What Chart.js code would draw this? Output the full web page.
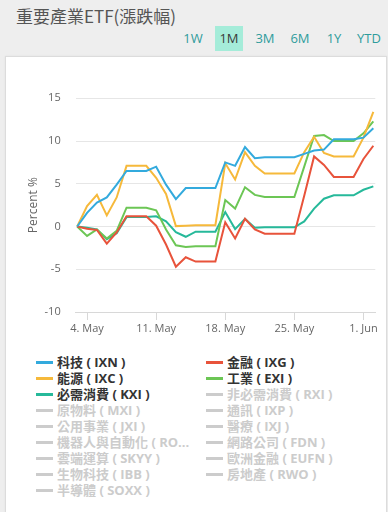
<!DOCTYPE html>
<html>
<head>
<meta charset="utf-8">
<script src="https://cdn.jsdelivr.net/npm/chart.js@4/dist/chart.umd.min.js"></script>
<style>
  html, body { margin: 0; padding: 0; }
  body { width: 388px; height: 512px; background: #eeeeee; position: relative; overflow: hidden;
         font-family: "Open Sans", "Noto Sans CJK TC", sans-serif; }
  #title { position: absolute; left: 16px; top: 3px; font-size: 17px; color: #555; font-family: "Noto Sans CJK TC", sans-serif; }
  #ranges { position: absolute; top: 26px; left: 0; width: 388px; height: 25px; }
  .rb { position: absolute; top: 0; height: 25px; line-height: 25px; font-size: 13px; color: #2e9c9c; text-align: center; }
  .rb.active { background: #a5ecd9; color: #3a3a3a; }
  #card { position: absolute; left: 5px; top: 56px; width: 380px; height: 470px; background: #fff;
          border: 1px solid #dcdcdc; box-shadow: 0 0 2px rgba(0,0,0,0.06); }
  #chartbox { position: absolute; left: 0; top: 0; width: 388px; height: 345px; }
  #legend { position: absolute; left: 0; top: 354px; width: 388px; }
  .li { position: absolute; height: 16px; line-height: 16px; font-size: 13px; font-weight: bold; white-space: nowrap;
        font-family: "Open Sans", "Noto Sans CJK TC", sans-serif; }
  .li .sw { position: absolute; left: 0; top: 7px; width: 17px; height: 3px; }
  .li .tx { position: absolute; left: 21px; top: 0; }
</style>
</head>
<body>
<div id="title">重要產業ETF(漲跌幅)</div>
<div id="ranges"></div>
<div id="card"></div>
<div id="chartbox"><canvas id="c" width="388" height="345"></canvas></div>
<div id="legend"></div>
<script>
// ---- data ----
const days = ['5/3','5/4','5/5','5/6','5/7','5/8','5/9','5/10','5/11','5/12','5/13','5/14','5/15','5/16','5/17','5/18','5/19','5/20','5/21','5/22','5/23','5/24','5/25','5/26','5/27','5/28','5/29','5/30','5/31','6/1','6/2'];
const xTickIndex = [1, 8, 15, 22, 29];
const xTickLabels = ['4. May', '11. May', '18. May', '25. May', '1. Jun'];
const yTicks = [-10, -5, 0, 5, 10, 15];

const ixn = [0,1.6,2.8,3.4,4.9,6.5,6.5,6.5,7.0,4.9,3.2,4.5,4.5,4.5,4.5,7.5,7.1,9.3,8.0,8.1,8.1,8.1,8.1,8.5,8.9,9.0,10.2,10.2,10.2,10.4,11.5];
const ixg = [0,-0.25,-0.4,-2.0,-0.7,1.2,1.2,1.2,0.1,-2.1,-4.7,-3.6,-4.1,-4.1,-4.1,0.5,-1.4,0.9,-0.35,-0.85,-0.85,-0.85,-0.85,3.6,8.2,7.2,5.8,5.8,5.8,7.9,9.45];
const ixc = [0,2.4,3.7,1.3,3.4,7.1,7.1,7.1,5.7,3.8,0.05,0.1,0.15,0.15,0.15,7.4,5.5,8.7,7.1,6.2,6.2,6.2,6.2,8.7,10.5,8.6,8.2,8.2,8.2,10.4,13.4];
const exi = [0,-1.1,-0.35,-1.4,-0.5,2.2,2.2,2.2,1.9,-0.35,-2.2,-2.4,-2.3,-2.3,-2.3,3.1,2.1,4.6,3.7,3.45,3.45,3.45,3.45,7.0,10.6,10.7,10.0,10.0,10.0,10.9,12.3];
const kxi = [0,-0.15,-0.35,-1.5,-0.8,1.1,1.1,1.1,1.2,0.6,-0.65,-1.2,-0.6,-0.6,-0.6,1.7,-0.3,0.9,-0.15,-0.1,-0.1,-0.1,-0.1,0.6,2.1,3.25,3.65,3.65,3.65,4.3,4.7];

const seriesNames = ['科技 ( IXN )','金融 ( IXG )','能源 ( IXC )','工業 ( EXI )','必需消費 ( KXI )','非必需消費 ( RXI )','原物料 ( MXI )','通訊 ( IXP )','公用事業 ( JXI )','醫療 ( IXJ )','機器人與自動化 ( RO...','網路公司 ( FDN )','雲端運算 ( SKYY )','歐洲金融 ( EUFN )','生物科技 ( IBB )','房地產 ( RWO )','半導體 ( SOXX )'];
const seriesColors = ['#33aadd','#e8533b','#f6b93b','#6cc655','#26b99a'];
const visibleData = [ixn, ixg, ixc, exi, kxi];
const ranges = ['1W','1M','3M','6M','1Y','YTD'];
const activeRange = '1M';

// ---- range buttons ----
const rangeX = [193, 229, 265, 300, 334, 369];
const rangeW = [26, 28, 26, 26, 24, 30];
const rb = document.getElementById('ranges');
ranges.forEach((r, i) => {
  const d = document.createElement('div');
  d.className = 'rb' + (r === activeRange ? ' active' : '');
  d.textContent = r;
  d.style.left = (rangeX[i] - rangeW[i] / 2) + 'px';
  d.style.width = rangeW[i] + 'px';
  rb.appendChild(d);
});

// ---- datasets ----
const datasets = seriesNames.map((name, i) => {
  const vis = i < visibleData.length;
  return {
    label: name,
    data: vis ? visibleData[i].map((v, k) => ({ x: k, y: v })) : [],
    borderColor: vis ? seriesColors[i] : '#cccccc',
    backgroundColor: vis ? seriesColors[i] : '#cccccc',
    borderWidth: 2,
    pointRadius: 0,
    tension: 0,
    fill: false,
    hidden: !vis
  };
});

const htmlLegend = {
  id: 'htmlLegend',
  afterUpdate(chart) {
    const box = document.getElementById('legend');
    box.innerHTML = '';
    chart.data.datasets.forEach((ds, i) => {
      const col = i % 2, row = Math.floor(i / 2);
      const hidden = !chart.isDatasetVisible(i);
      const it = document.createElement('div');
      it.className = 'li';
      it.style.left = (col === 0 ? 36 : 206) + 'px';
      it.style.top = (row * 16) + 'px';
      const sw = document.createElement('div');
      sw.className = 'sw';
      sw.style.background = hidden ? '#cccccc' : ds.borderColor;
      const tx = document.createElement('span');
      tx.className = 'tx';
      tx.textContent = ds.label;
      tx.style.color = hidden ? '#cccccc' : '#333333';
      it.appendChild(sw); it.appendChild(tx);
      box.appendChild(it);
    });
  }
};

new Chart(document.getElementById('c'), {
  type: 'line',
  data: { datasets },
  options: {
    responsive: false,
    animation: false,
    layout: { padding: { left: 22.5, top: 98.3, right: 12.7, bottom: 3 } },
    plugins: { legend: { display: false }, tooltip: { enabled: false } },
    scales: {
      x: {
        type: 'linear',
        min: -0.15,
        max: 30.2,
        afterBuildTicks: (axis) => { axis.ticks = xTickIndex.map(v => ({ value: v })); },
        afterFit: (axis) => { axis.height = 30; },
        ticks: {
          autoSkip: false,
          maxRotation: 0,
          padding: 2,
          color: '#666',
          font: { size: 11, family: '"Open Sans", sans-serif' },
          callback: (v) => { const j = xTickIndex.indexOf(v); return j >= 0 ? xTickLabels[j] : ''; }
        },
        grid: { drawOnChartArea: false, drawTicks: true, tickLength: 8, tickColor: '#d8d8d8' },
        border: { display: true, color: '#d8d8d8' }
      },
      y: {
        min: -10,
        max: 15,
        afterBuildTicks: (axis) => { axis.ticks = yTicks.map(v => ({ value: v })); },
        afterFit: (axis) => { axis.width = 53.2; },
        ticks: { padding: 15, color: '#666', font: { size: 11, family: '"Open Sans", sans-serif' } },
        grid: { color: '#e6e6e6', drawTicks: false },
        border: { display: false },
        title: { display: true, text: 'Percent %', color: '#666', font: { size: 12, family: '"Open Sans", sans-serif' }, padding: { top: 4, bottom: 0 } }
      }
    }
  },
  plugins: [htmlLegend]
});
</script>
</body>
</html>
